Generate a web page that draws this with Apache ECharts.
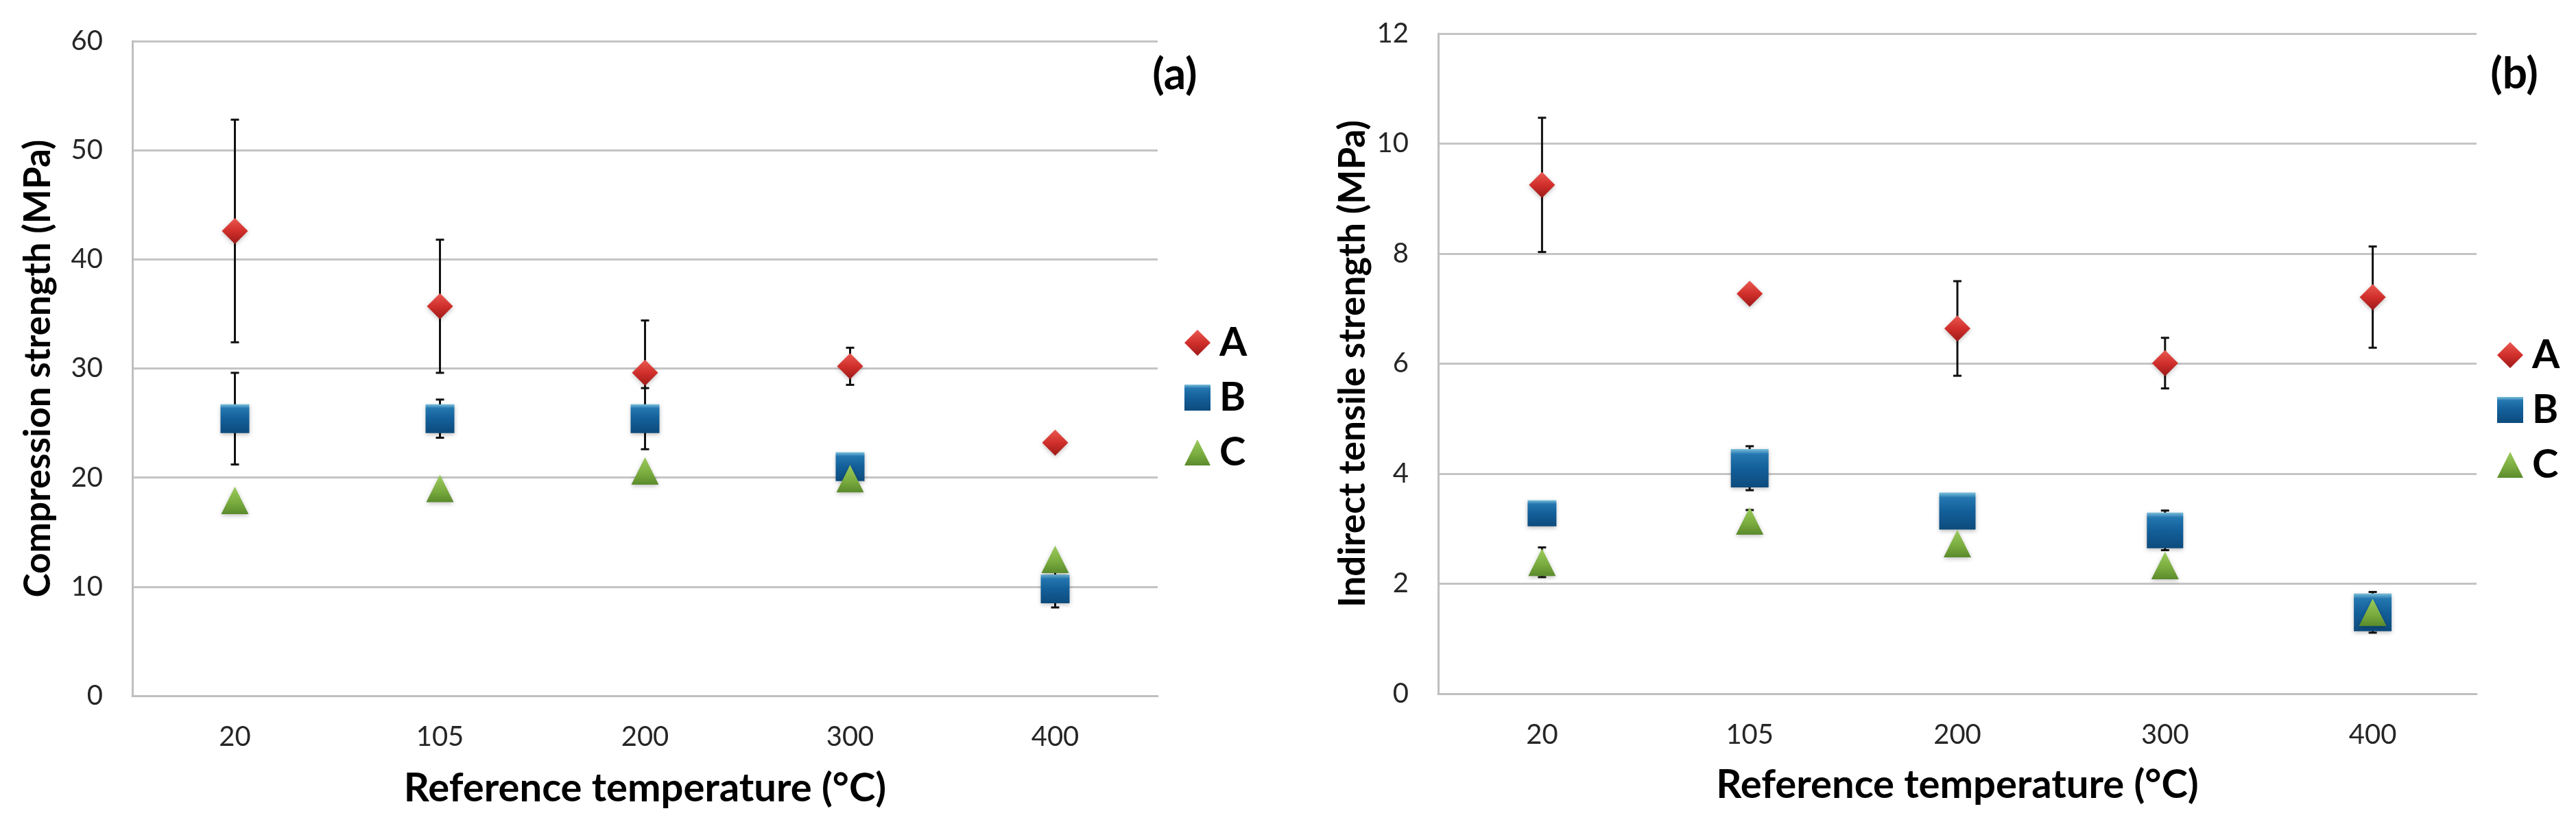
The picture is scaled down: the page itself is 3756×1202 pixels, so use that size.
<!DOCTYPE html>
<html>
<head>
<meta charset="utf-8">
<title>Strength vs temperature</title>
<script src="https://cdn.jsdelivr.net/npm/echarts@6/dist/echarts.min.js"></script>
<style>
html, body { margin: 0; padding: 0; background: #fff; }
#chart { width: 3756px; height: 1202px; }
</style>
</head>
<body>
<div id="chart"></div>
<script>
// categories (reference temperature, °C)
var temps = ['20', '105', '200', '300', '400'];

// (a) compression strength, MPa
var compA = [42.6, 35.7, 29.6, 30.2, 23.2];
var compAErr = [10.2, 6.1, 4.8, 1.7, 0.5];
var compB = [25.4, 25.4, 25.4, 21.0, 9.8];
var compBErr = [4.2, 1.75, 2.8, 0.5, 1.7];
var compC = [17.9, 19.0, 20.6, 19.9, 12.5];
var compCErr = [0, 0, 0, 0, 0];

// (b) indirect tensile strength, MPa
var tensA = [9.25, 7.27, 6.64, 6.01, 7.21];
var tensAErr = [1.22, 0.1, 0.86, 0.46, 0.92];
var tensB = [3.28, 4.10, 3.32, 2.97, 1.48];
var tensBErr = [0, 0.4, 0.2, 0.36, 0.37];
var tensC = [2.39, 3.14, 2.73, 2.33, 1.48];
var tensCErr = [0.27, 0.2, 0, 0, 0];

var FONT = 'Lato';

var redFill = { type: 'linear', x: 0, y: 0, x2: 0, y2: 1, colorStops: [
    { offset: 0, color: '#ea5a52' }, { offset: 0.5, color: '#d12f2b' }, { offset: 1, color: '#9c1a19' }] };
var blueFill = { type: 'linear', x: 0, y: 0, x2: 0, y2: 1, colorStops: [
    { offset: 0, color: '#7cc0dc' }, { offset: 0.14, color: '#2477b0' }, { offset: 0.5, color: '#135f9a' }, { offset: 1, color: '#0d4b7c' }] };
var greenFill = { type: 'linear', x: 0, y: 0, x2: 0, y2: 1, colorStops: [
    { offset: 0, color: '#9ccb5c' }, { offset: 0.6, color: '#78aa3e' }, { offset: 1, color: '#5a8a2c' }] };

// marker sizes of the B squares in panel (b) differ from point to point
var tensBSizes = [[42, 38], [55, 56], [53, 54], [53, 52], [55, 55]];

function errData(vals, errs) {
    return vals.map(function (v, i) { return [i, v - errs[i], v + errs[i]]; });
}

function renderErr(params, api) {
    var lo = api.coord([api.value(0), api.value(1)]);
    var hi = api.coord([api.value(0), api.value(2)]);
    var cap = 6;
    var st = { stroke: '#111', lineWidth: 3 };
    return {
        type: 'group',
        children: [
            { type: 'line', shape: { x1: hi[0], y1: hi[1], x2: lo[0], y2: lo[1] }, style: st },
            { type: 'line', shape: { x1: hi[0] - cap, y1: hi[1], x2: hi[0] + cap, y2: hi[1] }, style: st },
            { type: 'line', shape: { x1: lo[0] - cap, y1: lo[1], x2: lo[0] + cap, y2: lo[1] }, style: st }
        ]
    };
}

function errSeries(vals, errs, gi) {
    return {
        type: 'custom', xAxisIndex: gi, yAxisIndex: gi, z: 2,
        renderItem: renderErr, data: errData(vals, errs), silent: true
    };
}

function pointSeries(name, vals, gi, symbol, size, fill) {
    return {
        name: name, type: 'scatter', xAxisIndex: gi, yAxisIndex: gi, z: 3,
        symbol: symbol, symbolSize: size, data: vals,
        itemStyle: { color: fill, opacity: 1, shadowBlur: 6, shadowColor: 'rgba(0,0,0,0.25)', shadowOffsetY: 2 }
    };
}

function xAxisOf(gi, nameGap) {
    return {
        type: 'category', gridIndex: gi, data: temps,
        axisLine: { lineStyle: { color: '#bfbfbf', width: 3 } },
        axisTick: { show: false },
        axisLabel: { fontSize: 40, color: '#262626', margin: 40, fontFamily: FONT },
        splitLine: { show: false },
        name: 'Reference temperature (°C)', nameLocation: 'middle', nameGap: nameGap,
        nameTextStyle: { fontSize: 58, fontWeight: 'bold', color: '#000', fontFamily: FONT }
    };
}

function yAxisOf(gi, max, step, name, nameGap) {
    return {
        type: 'value', gridIndex: gi, min: 0, max: max, interval: step,
        axisLine: { show: true, lineStyle: { color: '#bfbfbf', width: 3 } },
        axisTick: { show: false },
        axisLabel: { fontSize: 40, color: '#262626', margin: 43, fontFamily: FONT },
        splitLine: { lineStyle: { color: '#c4c4c4', width: 3 } },
        name: name, nameLocation: 'middle', nameGap: nameGap, nameRotate: 90,
        nameTextStyle: { fontSize: 53, fontWeight: 'bold', color: '#000', fontFamily: FONT }
    };
}

function legendAt(left, top) {
    return {
        data: [{ name: 'A', icon: 'diamond' }, { name: 'B', icon: 'rect' }, { name: 'C', icon: 'triangle' }],
        orient: 'vertical', left: left, top: top, padding: 0,
        itemWidth: 38, itemHeight: 38, itemGap: 22, selectedMode: false,
        textStyle: { fontSize: 58, fontWeight: 'bold', color: '#000', fontFamily: FONT, padding: [0, 0, 0, 8] }
    };
}

var chart = echarts.init(document.getElementById('chart'), null, { renderer: 'canvas' });

chart.setOption({
    backgroundColor: '#ffffff',
    animation: false,
    textStyle: { fontFamily: FONT },
    grid: [
        { left: 193, right: 2068, top: 60, bottom: 187 },
        { left: 2097, right: 145, top: 49, bottom: 190 }
    ],
    xAxis: [xAxisOf(0, 106), xAxisOf(1, 104)],
    yAxis: [
        yAxisOf(0, 60, 10, 'Compression strength (MPa)', 111),
        yAxisOf(1, 12, 2, 'Indirect tensile strength (MPa)', 98)
    ],
    legend: [legendAt(1727, 471), legendAt(3641, 489)],
    graphic: [
        { type: 'text', x: 1713, y: 109, style: { text: '(a)', fontSize: 64, fontWeight: 'bold', fill: '#000', fontFamily: FONT, align: 'center', verticalAlign: 'middle' } },
        { type: 'text', x: 3666, y: 108, style: { text: '(b)', fontSize: 64, fontWeight: 'bold', fill: '#000', fontFamily: FONT, align: 'center', verticalAlign: 'middle' } }
    ],
    series: [
        errSeries(compA, compAErr, 0),
        errSeries(compB, compBErr, 0),
        errSeries(compC, compCErr, 0),
        pointSeries('A', compA, 0, 'diamond', 38, redFill),
        pointSeries('B', compB, 0, 'rect', 42, blueFill),
        pointSeries('C', compC, 0, 'triangle', 40, greenFill),

        errSeries(tensA, tensAErr, 1),
        errSeries(tensB, tensBErr, 1),
        errSeries(tensC, tensCErr, 1),
        pointSeries('A', tensA, 1, 'diamond', 38, redFill),
        pointSeries('B', tensB, 1, 'rect', function (v, p) { return tensBSizes[p.dataIndex]; }, blueFill),
        pointSeries('C', tensC, 1, 'triangle', 40, greenFill)
    ]
});
</script>
</body>
</html>
